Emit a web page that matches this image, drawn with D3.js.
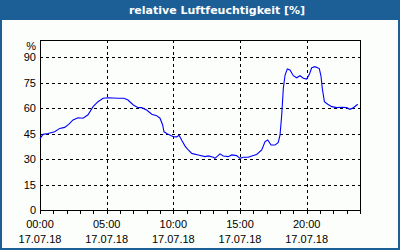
<!DOCTYPE html>
<html>
<head>
<meta charset="utf-8">
<script src="https://cdn.jsdelivr.net/npm/d3@7"></script>
<style>
  html, body { margin: 0; padding: 0; background: #1c5e96; }
  svg { display: block; }
</style>
</head>
<body>
<script>
const title = "relative Luftfeuchtigkeit [%]"
const unit = "%"

// hours since 00:00 on 17.07.18 and humidity in %
const hours = [0, 0.23, 0.6, 1.1, 1.48, 1.85, 2.15, 2.48, 2.85, 3.23, 3.6, 3.98, 4.35, 4.73, 5.1, 5.85, 6.3, 6.6,
  7.0, 7.37, 7.63, 8.0, 8.38, 8.75, 9.0, 9.2, 9.3, 9.62, 10.0, 10.25, 10.43, 10.63, 10.88, 11.12, 11.38, 11.87,
  12.38, 12.62, 13.0, 13.12, 13.5, 13.75, 14.12, 14.38, 14.75, 15.0, 15.25, 15.62, 15.88, 16.25, 16.63, 16.88,
  17.08, 17.33, 17.63, 17.87, 18.0, 18.13, 18.25, 18.38, 18.55, 18.75, 19.0, 19.25, 19.5, 19.75, 20.0, 20.2,
  20.38, 20.63, 20.95, 21.08, 21.17, 21.33, 21.58, 21.88, 22.25, 22.63, 23.0, 23.25, 23.5, 23.83]
const humidity = [42, 44.5, 45, 46, 48, 48.6, 50.4, 53, 54.3, 54, 56, 60.8, 63.7, 65.7, 66, 65.7, 65.7, 64.7,
  61.8, 60.2, 60.2, 58.8, 56.3, 55.5, 54, 50, 46, 44.5, 43.1, 43, 44, 41, 37.6, 35.3, 33.3, 32.4,
  31.4, 31.8, 31, 30.4, 33, 31.8, 31.4, 32.4, 32, 30.4, 31, 31, 31.8, 32.7, 35.3, 40.2,
  41.2, 38.2, 38.2, 39.8, 44, 56, 71.6, 79.4, 83, 82.4, 79, 77.8, 79, 77.5, 77, 79.8,
  83.7, 84.3, 83.2, 78.4, 71.6, 63.7, 62.2, 60.8, 60.2, 60.4, 60.2, 59.2, 60.2, 62.2]

const yTicks = [0, 15, 30, 45, 60, 75, 90]
const xTicks = [0, 5, 10, 15, 20]
const xTimeLabels = ["00:00", "05:00", "10:00", "15:00", "20:00"]
const xDateLabel = "17.07.18"

const W = 400, H = 250
const svg = d3.select("body").append("svg").attr("width", W).attr("height", H)

svg.append("rect").attr("width", W).attr("height", H).attr("fill", "#1c5e96")
svg.append("rect").attr("x", 2).attr("y", 20).attr("width", W - 4).attr("height", H - 22).attr("fill", "#fbfefb")

svg.append("text")
  .attr("x", 217).attr("y", 14)
  .attr("text-anchor", "middle")
  .attr("font-family", "DejaVu Sans").attr("font-weight", "bold").attr("font-size", 11)
  .attr("fill", "white")
  .text(title)

const x = d3.scaleLinear().domain([0, 24]).range([40, 360])
const y = d3.scaleLinear().domain([0, 100]).range([210, 40])

const font = "Liberation Sans"

// grid
svg.append("g").selectAll("line").data(yTicks.filter(d => d > 0)).join("line")
  .attr("x1", x(0)).attr("x2", x(24))
  .attr("y1", d => Math.round(y(d)) + 0.5).attr("y2", d => Math.round(y(d)) + 0.5)
  .attr("stroke", "black").attr("stroke-dasharray", "3,3")

svg.append("g").selectAll("line").data(xTicks.filter(d => d > 0)).join("line")
  .attr("x1", d => Math.round(x(d)) + 0.5).attr("x2", d => Math.round(x(d)) + 0.5)
  .attr("y1", y(100)).attr("y2", y(0))
  .attr("stroke", "black").attr("stroke-dasharray", "3,3")

// hourly ticks
svg.append("g").selectAll("line").data(d3.range(0, 25)).join("line")
  .attr("x1", d => Math.round(x(d)) + 0.5).attr("x2", d => Math.round(x(d)) + 0.5)
  .attr("y1", y(0)).attr("y2", y(0) + 4)
  .attr("stroke", "black")

// frame
svg.append("rect")
  .attr("x", x(0) + 0.5).attr("y", y(100) + 0.5)
  .attr("width", x(24) - x(0)).attr("height", y(0) - y(100))
  .attr("fill", "none").attr("stroke", "black")

// y labels
svg.append("g").selectAll("text").data(yTicks).join("text")
  .attr("x", 36).attr("y", d => y(d) + 4)
  .attr("text-anchor", "end")
  .attr("font-family", font).attr("font-size", 11)
  .text(d => d)

svg.append("text")
  .attr("x", 36).attr("y", 50)
  .attr("text-anchor", "end")
  .attr("font-family", font).attr("font-size", 11)
  .text(unit)

// x labels
const xl = svg.append("g").selectAll("g").data(xTicks).join("g")
xl.append("text")
  .attr("x", d => x(d)).attr("y", 228)
  .attr("text-anchor", "middle")
  .attr("font-family", font).attr("font-size", 11)
  .text((d, i) => xTimeLabels[i])
xl.append("text")
  .attr("x", d => x(d)).attr("y", 243)
  .attr("text-anchor", "middle")
  .attr("font-family", font).attr("font-size", 11)
  .text(xDateLabel)

// humidity line
const line = d3.line().x(d => x(d[0])).y(d => y(d[1]))
svg.append("path")
  .datum(d3.zip(hours, humidity))
  .attr("d", line)
  .attr("fill", "none")
  .attr("stroke", "#0000ff")
  .attr("stroke-width", 1.1)
</script>
</body>
</html>
